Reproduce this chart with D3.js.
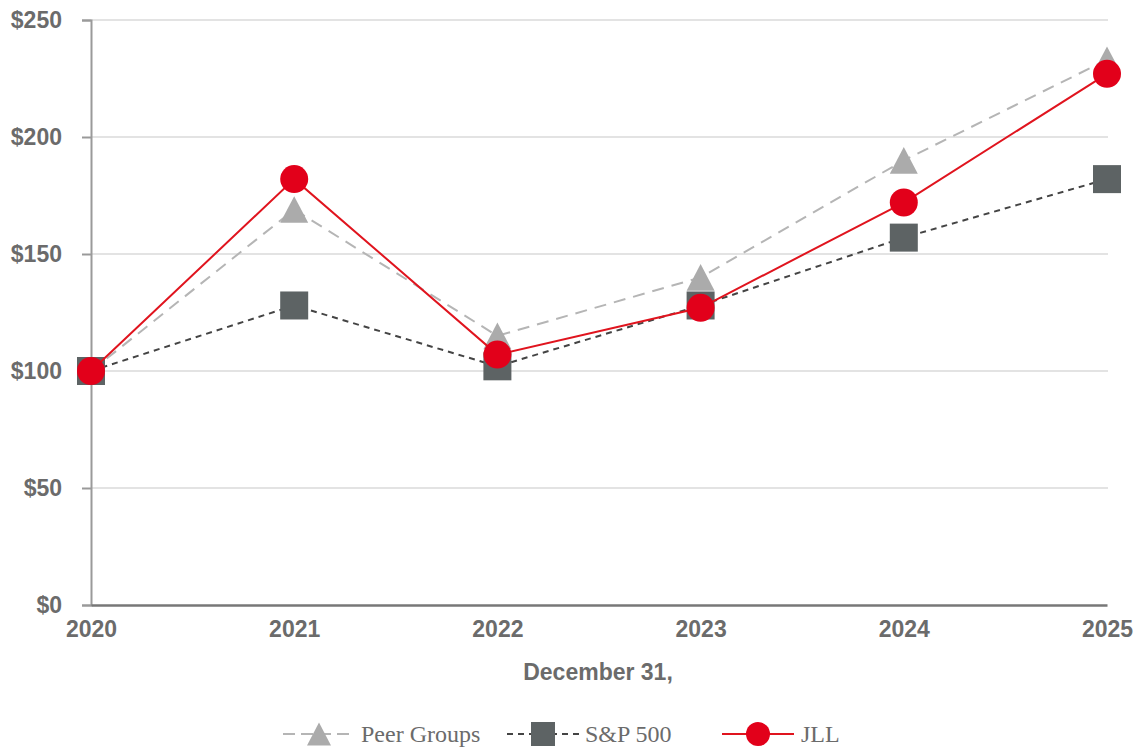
<!DOCTYPE html>
<meta charset="utf-8">
<style>
  body { margin: 0; background: #fff; }
  svg text { fill: #6b6b6b; }
</style>
<svg></svg>
<script src="https://d3js.org/d3.v7.min.js"></script>
<script>
var width = 1140,
    height = 749;

var years = ["2020", "2021", "2022", "2023", "2024", "2025"];
var peerGroups = [100, 169, 115, 140, 190, 233];
var sp500 = [100, 128, 102, 128, 157, 182];
var jll = [100, 182, 107, 127, 172, 227];
var yTicks = [0, 50, 100, 150, 200, 250];

var series = [
  { name: "Peer Groups", values: peerGroups, line: "#b5b5b5", dash: "12,8", marker: "triangle", fill: "#ababab" },
  { name: "S&P 500", values: sp500, line: "#444", dash: "6,5", marker: "square", fill: "#5d6364" },
  { name: "JLL", values: jll, line: "#e0141e", dash: null, marker: "circle", fill: "#e2001a" }
];

var margin = { left: 91, right: 33, top: 20, bottom: 144 };

var svg = d3.select("svg")
    .attr("width", width)
    .attr("height", height);

var x = d3.scalePoint()
    .domain(years)
    .range([margin.left, width - margin.right]);

var y = d3.scaleLinear()
    .domain([0, 250])
    .range([height - margin.bottom, margin.top]);

// gridlines
svg.append("g")
  .selectAll("line")
  .data(yTicks.slice(1))
  .enter().append("line")
    .attr("x1", margin.left)
    .attr("x2", width - margin.right + 1)
    .attr("y1", function(d) { return y(d); })
    .attr("y2", function(d) { return y(d); })
    .attr("stroke", "#e3e3e3")
    .attr("stroke-width", 2);

// y axis
var yAxis = svg.append("g")
    .attr("transform", "translate(" + margin.left + ",0)")
    .call(d3.axisLeft(y).tickValues(yTicks).tickFormat(function(d) { return "$" + d; }).tickSize(9).tickPadding(20));
yAxis.select(".domain").attr("stroke", "#9a9a9a").attr("stroke-width", 2);
yAxis.selectAll(".tick line").attr("stroke", "#9a9a9a").attr("stroke-width", 2);
yAxis.selectAll("text")
    .attr("font-family", "Liberation Sans, Arial, sans-serif")
    .attr("font-weight", "bold")
    .attr("font-size", 23)
    .style("fill", "#6b6b6b");

// x axis
var xAxis = svg.append("g")
    .attr("transform", "translate(0," + y(0) + ")")
    .call(d3.axisBottom(x).tickSize(0).tickPadding(16));
xAxis.select(".domain").attr("stroke", "#777").attr("stroke-width", 2.5);
xAxis.selectAll("text")
    .attr("font-family", "Liberation Sans, Arial, sans-serif")
    .attr("font-weight", "bold")
    .attr("font-size", 23)
    .style("fill", "#6b6b6b");

svg.append("text")
    .attr("x", 598)
    .attr("y", 680)
    .attr("text-anchor", "middle")
    .attr("font-family", "Liberation Sans, Arial, sans-serif")
    .attr("font-weight", "bold")
    .attr("font-size", 23)
    .text("December 31,");

var line = d3.line()
    .x(function(d, i) { return x(years[i]); })
    .y(function(d) { return y(d); });

function drawMarker(g, type, cx, cy, fill, s) {
  if (type === "circle") {
    g.append("circle").attr("cx", cx).attr("cy", cy).attr("r", s / 2).attr("fill", fill);
  } else if (type === "square") {
    g.append("rect").attr("x", cx - s / 2).attr("y", cy - s / 2).attr("width", s).attr("height", s).attr("fill", fill);
  } else {
    var h = s * 0.95;
    g.append("path")
      .attr("d", "M" + cx + "," + (cy - h / 2) + "L" + (cx + s / 2) + "," + (cy + h / 2) + "L" + (cx - s / 2) + "," + (cy + h / 2) + "Z")
      .attr("fill", fill);
  }
}

series.forEach(function(s) {
  var g = svg.append("g");
  g.append("path")
    .datum(s.values)
    .attr("d", line)
    .attr("fill", "none")
    .attr("stroke", s.line)
    .attr("stroke-width", 2)
    .attr("stroke-dasharray", s.dash);
  s.values.forEach(function(v, i) {
    drawMarker(g, s.marker, x(years[i]), y(v), s.fill, 28);
  });
});

// legend
var legendX = [283, 507, 722];
var legendTextX = [361, 585, 801];
var ly = 734;
series.forEach(function(s, i) {
  var g = svg.append("g");
  g.append("line")
    .attr("x1", legendX[i])
    .attr("x2", legendX[i] + 72)
    .attr("y1", ly)
    .attr("y2", ly)
    .attr("stroke", s.line)
    .attr("stroke-width", 2)
    .attr("stroke-dasharray", s.dash ? (i === 0 ? "12,6" : "6,5") : null);
  drawMarker(g, s.marker, legendX[i] + 36, ly, s.fill, 24);
  g.append("text")
    .attr("x", legendTextX[i])
    .attr("y", ly + 8)
    .attr("font-family", "Liberation Serif, Times New Roman, serif")
    .attr("font-size", 24)
    .text(s.name);
});
</script>
